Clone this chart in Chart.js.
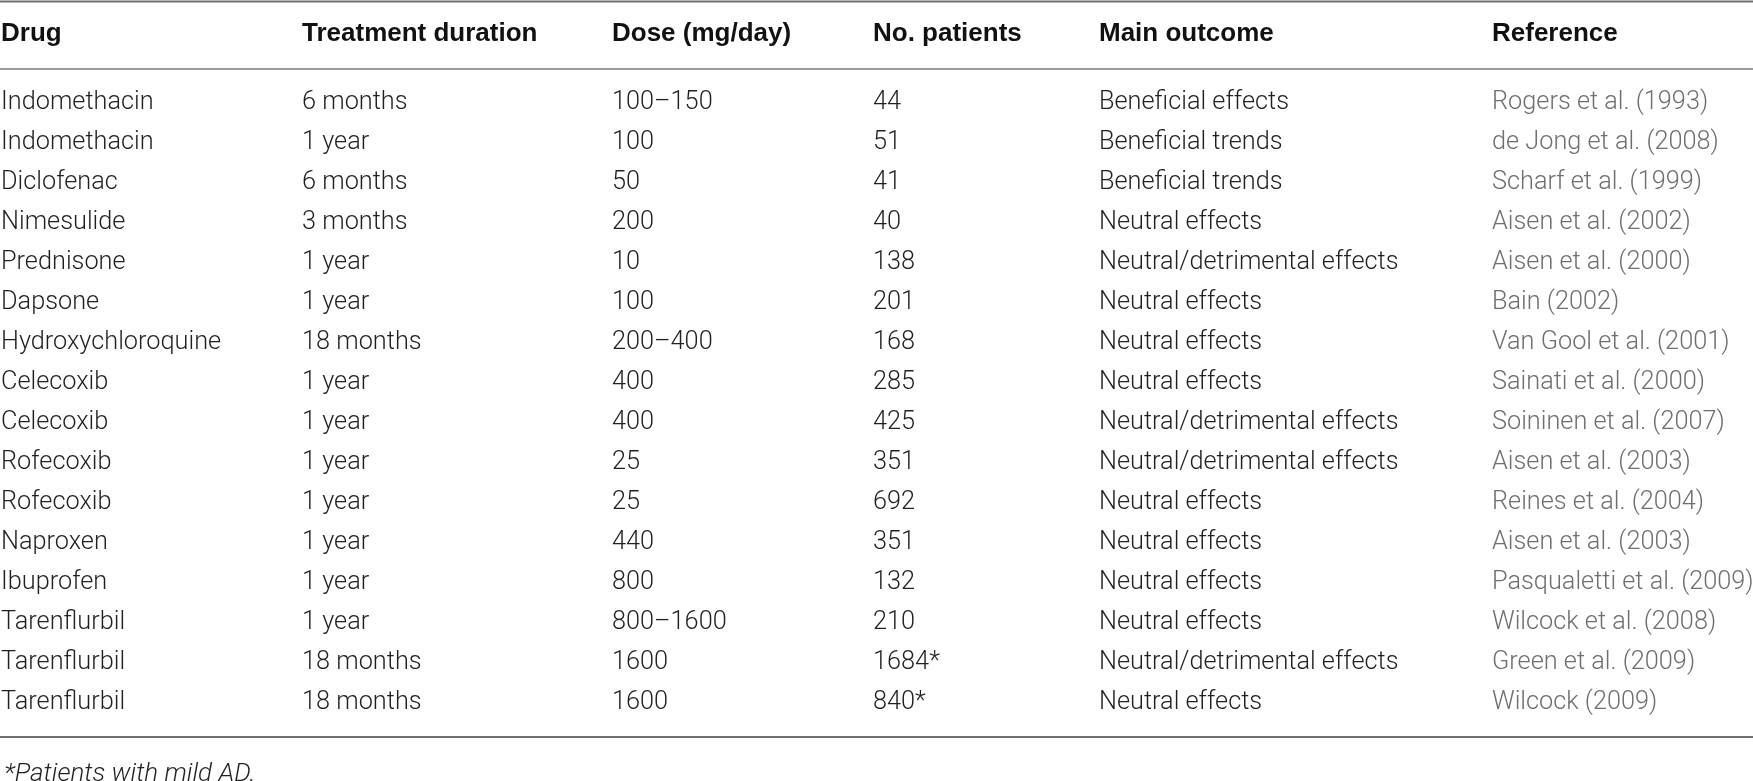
<!DOCTYPE html>
<html>
<head>
<meta charset="utf-8">
<script src="https://cdn.jsdelivr.net/npm/chart.js@4.4.0/dist/chart.umd.min.js"></script>
<style>
  html, body { margin: 0; padding: 0; background: #ffffff; }
  #wrap { width: 1753px; height: 781px; position: relative; }
</style>
</head>
<body>
<div id="wrap"><canvas id="c"></canvas></div>
<script>
// ---- table data ----
const headers = ["Drug", "Treatment duration", "Dose (mg/day)", "No. patients", "Main outcome", "Reference"];
const drugs = ["Indomethacin", "Indomethacin", "Diclofenac", "Nimesulide", "Prednisone", "Dapsone",
  "Hydroxychloroquine", "Celecoxib", "Celecoxib", "Rofecoxib", "Rofecoxib", "Naproxen",
  "Ibuprofen", "Tarenflurbil", "Tarenflurbil", "Tarenflurbil"];
const durations = ["6 months", "1 year", "6 months", "3 months", "1 year", "1 year",
  "18 months", "1 year", "1 year", "1 year", "1 year", "1 year",
  "1 year", "1 year", "18 months", "18 months"];
const doses = ["100–150", "100", "50", "200", "10", "100",
  "200–400", "400", "400", "25", "25", "440",
  "800", "800–1600", "1600", "1600"];
const patients = ["44", "51", "41", "40", "138", "201",
  "168", "285", "425", "351", "692", "351",
  "132", "210", "1684*", "840*"];
const outcomes = ["Beneficial effects", "Beneficial trends", "Beneficial trends", "Neutral effects",
  "Neutral/detrimental effects", "Neutral effects", "Neutral effects", "Neutral effects",
  "Neutral/detrimental effects", "Neutral/detrimental effects", "Neutral effects", "Neutral effects",
  "Neutral effects", "Neutral effects", "Neutral/detrimental effects", "Neutral effects"];
const references = ["Rogers et al. (1993)", "de Jong et al. (2008)", "Scharf et al. (1999)", "Aisen et al. (2002)",
  "Aisen et al. (2000)", "Bain (2002)", "Van Gool et al. (2001)", "Sainati et al. (2000)",
  "Soininen et al. (2007)", "Aisen et al. (2003)", "Reines et al. (2004)", "Aisen et al. (2003)",
  "Pasqualetti et al. (2009)", "Wilcock et al. (2008)", "Green et al. (2009)", "Wilcock (2009)"];
const footnote = "*Patients with mild AD.";

const columns = [drugs, durations, doses, patients, outcomes, references];

// ---- layout (px-based scale units) ----
const colLeft = [1, 302, 612, 873, 1099, 1492];
const ROW0 = 102.5, ROWH = 40.03;
const W = 1753, H = 781;
const yMin = -ROW0 / ROWH, yMax = (H - ROW0) / ROWH;
const yHeader = (34 - ROW0) / ROWH;
const yTopRule = (1.5 - ROW0) / ROWH;
const yHeadRule = (69 - ROW0) / ROWH;
const yBottomRule = (737 - ROW0) / ROWH;
const yFoot = (774 - ROW0) / ROWH;

const bodyFont = "300 25.3px Roboto";
const headFont = "bold 26px 'Liberation Sans'";
const refColor = "#6f6f6f";
const textColor = "#231f20";

const datasets = columns.map((col, c) => ({
  label: headers[c],
  data: col.map((v, i) => ({ x: colLeft[c], y: i })),
  texts: col,
  pointRadius: 0,
  pointHoverRadius: 0,
  showLine: false
}));

const tablePlugin = {
  id: 'tableText',
  afterDatasetsDraw(chart) {
    const ctx = chart.ctx;
    const xs = chart.scales.x, ys = chart.scales.y;
    ctx.save();
    // rules
    const rule = (yv, color, w) => {
      const py = ys.getPixelForValue(yv);
      ctx.strokeStyle = color; ctx.lineWidth = w;
      ctx.beginPath(); ctx.moveTo(xs.getPixelForValue(0), py); ctx.lineTo(xs.getPixelForValue(W), py); ctx.stroke();
    };
    rule(yTopRule, "#6e6e6e", 2);
    rule(yHeadRule, "#9a9a9a", 2);
    rule(yBottomRule, "#6e6e6e", 2);
    // headers
    ctx.textBaseline = 'middle';
    ctx.textAlign = 'left';
    ctx.font = headFont;
    ctx.fillStyle = "#111111";
    headers.forEach((h, c) => {
      ctx.fillText(h, xs.getPixelForValue(colLeft[c]), ys.getPixelForValue(yHeader));
    });
    // cells
    chart.data.datasets.forEach((ds, c) => {
      const meta = chart.getDatasetMeta(c);
      ctx.font = bodyFont;
      ctx.fillStyle = c === 5 ? refColor : textColor;
      meta.data.forEach((pt, i) => {
        ctx.fillText(ds.texts[i], pt.x, pt.y);
      });
    });
    // footnote
    ctx.font = "italic 300 26px Roboto";
    ctx.fillStyle = textColor;
    ctx.fillText(footnote, xs.getPixelForValue(colLeft[0] + 3), ys.getPixelForValue(yFoot));
    ctx.restore();
  }
};

new Chart(document.getElementById('c'), {
  type: 'scatter',
  data: { datasets },
  options: {
    responsive: true,
    maintainAspectRatio: false,
    animation: false,
    devicePixelRatio: 1,
    layout: { padding: 0 },
    plugins: { legend: { display: false }, tooltip: { enabled: false } },
    scales: {
      x: { type: 'linear', min: 0, max: W, display: false },
      y: { type: 'linear', min: yMin, max: yMax, reverse: true, display: false }
    }
  },
  plugins: [tablePlugin]
});
</script>
</body>
</html>
